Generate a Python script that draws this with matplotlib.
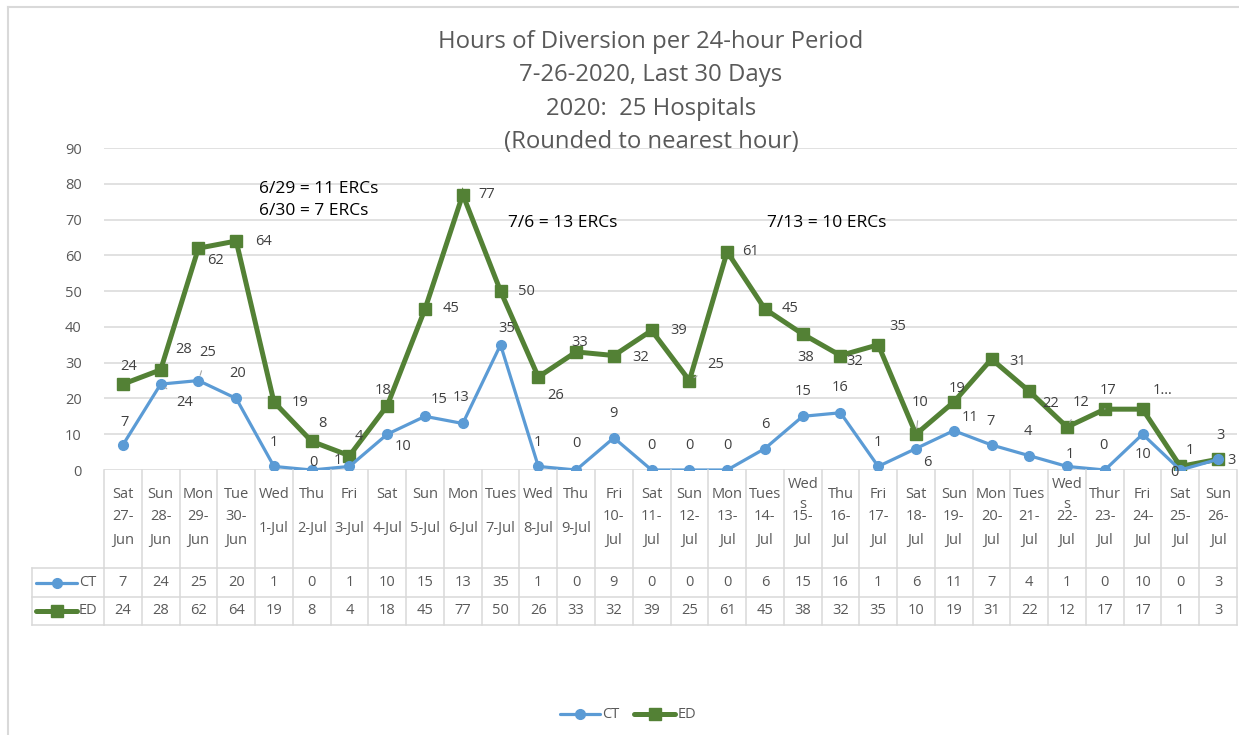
import matplotlib
matplotlib.use("Agg")
import matplotlib.pyplot as plt
from matplotlib import transforms
from matplotlib.lines import Line2D

# ---------------- data ----------------
days = ["Sat", "Sun", "Mon", "Tue", "Wed", "Thu", "Fri", "Sat", "Sun", "Mon",
        "Tues", "Wed", "Thu", "Fri", "Sat", "Sun", "Mon", "Tues", "Weds", "Thu",
        "Fri", "Sat", "Sun", "Mon", "Tues", "Weds", "Thur", "Fri", "Sat", "Sun"]
dates = ["27-Jun", "28-Jun", "29-Jun", "30-Jun", "1-Jul", "2-Jul", "3-Jul", "4-Jul",
         "5-Jul", "6-Jul", "7-Jul", "8-Jul", "9-Jul", "10-Jul", "11-Jul", "12-Jul",
         "13-Jul", "14-Jul", "15-Jul", "16-Jul", "17-Jul", "18-Jul", "19-Jul",
         "20-Jul", "21-Jul", "22-Jul", "23-Jul", "24-Jul", "25-Jul", "26-Jul"]
ct = [7, 24, 25, 20, 1, 0, 1, 10, 15, 13, 35, 1, 0, 9, 0, 0, 0, 6, 15, 16,
      1, 6, 11, 7, 4, 1, 0, 10, 0, 3]
ed = [24, 28, 62, 64, 19, 8, 4, 18, 45, 77, 50, 26, 33, 32, 39, 25, 61, 45, 38, 32,
      35, 10, 19, 31, 22, 12, 17, 17, 1, 3]
series_names = ["CT", "ED"]
title_lines = ["Hours of Diversion per 24-hour Period", "7-26-2020, Last 30 Days",
               "2020:  25 Hospitals", "(Rounded to nearest hour)"]
notes = ["6/29 = 11 ERCs\n6/30 = 7 ERCs", "7/6 = 13 ERCs", "7/13 = 10 ERCs"]
yticks = list(range(0, 100, 10))

# ---------------- style ----------------
W, H = 1239, 735
FONT = "Open Sans"
plt.rcParams["font.family"] = [FONT, "DejaVu Sans"]
GRAY_TXT = "#595959"
LBL_TXT = "#404040"
GRID = "#d9d9d9"
CT_C = "#5B9BD5"
ED_C = "#538135"
FS = 10.5

# data-label offsets in pixels (dx, dy up)
ct_off = [(2, 22), (24, -18), (9, 28), (1, 25), (0, 24), (2, 8), (-12, 6), (16, -12),
          (14, 17), (-2, 26), (6, 16), (0, 24), (0, 27), (0, 24), (0, 25), (0, 25),
          (0, 25), (0, 24), (0, 25), (0, 25), (0, 24), (11, -14), (16, 13), (-1, 23),
          (-1, 24), (3, 12), (-1, 25), (0, -20), (-6, -2), (13, -1)]
ed_off = [(6, 18), (23, 20), (17, -12), (27, 0), (26, 0), (11, 18), (9, 19), (-4, 15),
          (26, 0), (24, 0), (26, 0), (17, -19), (4, 9), (27, -2), (27, 0), (26, 16),
          (23, 0), (25, 0), (3, -23), (14, -6), (20, 18), (4, 32), (3, 14), (26, -2),
          (21, -12), (14, 25), (3, 19), (20, 19), (10, 16), (2, 24)]
ct_leader = {1, 2}
ed_leader = {15, 21, 25, 26}
ed_text_override = {27: "1\u2026"}

fig = plt.figure(figsize=(W / 100, H / 100), dpi=100)
ax = fig.add_axes([104 / W, 1 - 470 / H, (1237 - 104) / W, (470 - 148) / H])

x = list(range(len(days)))
ax.plot(x, ed, color=ED_C, lw=3.6, marker="s", ms=8.5, zorder=3, solid_joinstyle="miter")
ax.plot(x, ct, color=CT_C, lw=2.3, marker="o", ms=7, zorder=4)

ax.set_xlim(-0.5, len(days) - 0.5)
ax.set_ylim(0, 90)
ax.set_yticks(yticks)
ax.set_xticks([])
ax.grid(axis="y", color=GRID, lw=1.1)
ax.set_axisbelow(True)
for s in ax.spines.values():
    s.set_visible(False)
ax.tick_params(axis="y", length=0, pad=16, labelsize=FS, labelcolor=GRAY_TXT)

# data labels
def add_labels(vals, offs, leaders, override):
    for i, v in enumerate(vals):
        txt = override.get(i, str(v))
        dx, dy = offs[i]
        kw = {}
        if i in leaders:
            kw["arrowprops"] = dict(arrowstyle="-", color="#a6a6a6", lw=0.8,
                                    shrinkA=6, shrinkB=4)
        ax.annotate(txt, (i, v), xytext=(dx, dy), textcoords="offset pixels",
                    ha="center", va="center", fontsize=FS, color=LBL_TXT,
                    zorder=5, annotation_clip=False, **kw)

add_labels(ct, ct_off, ct_leader, {})
add_labels(ed, ed_off, ed_leader, ed_text_override)

# pixel transform (top-down pixel coords)
T_px = transforms.Affine2D().scale(1 / W, -1 / H).translate(0, 1) + fig.transFigure
T_mix = transforms.blended_transform_factory(ax.transData, T_px)

# title
for k, line in enumerate(title_lines):
    fig.text(651 / W, 1 - (42 + 33.3 * k) / H, line, ha="center", va="center",
             fontsize=17.2, color=GRAY_TXT)

# notes
fig.text(259 / W, 1 - 200 / H, notes[0], ha="left", va="center", fontsize=12.5,
         color="black", linespacing=1.45)
fig.text(563 / W, 1 - 223 / H, notes[1], ha="center", va="center", fontsize=12.5,
         color="black")
fig.text(827 / W, 1 - 223 / H, notes[2], ha="center", va="center", fontsize=12.5,
         color="black")

# ---------------- data table ----------------
n = len(days)
tbl_lines = []
for b in range(n + 1):
    tbl_lines.append(Line2D([b - 0.5, b - 0.5], [470, 625], transform=T_mix))
for yy in (568, 597, 625):
    tbl_lines.append(Line2D([-0.5, n - 0.5], [yy, yy], transform=T_mix))
    tbl_lines.append(Line2D([32, 104], [yy, yy], transform=T_px))
tbl_lines.append(Line2D([32, 32], [568, 625], transform=T_px))
for ln in tbl_lines:
    ln.set_color(GRID)
    ln.set_linewidth(1.1)
    ln.set_clip_on(False)
    fig.add_artist(ln)

for i in range(n):
    d = days[i]
    dlab = "Wed\ns" if d == "Weds" else d
    ax.text(i, 494.5, dlab, transform=T_mix, ha="center", va="center",
            fontsize=FS, color=GRAY_TXT, linespacing=1.45, clip_on=False)
    dt = dates[i]
    num, mon = dt.split("-")
    dtlab = dt if len(num) == 1 else num + "-\n" + mon
    ax.text(i, 528.5, dtlab, transform=T_mix, ha="center", va="center",
            fontsize=FS, color=GRAY_TXT, linespacing=1.75, clip_on=False)
    ax.text(i, 583, str(ct[i]), transform=T_mix, ha="center", va="center",
            fontsize=FS, color=GRAY_TXT, clip_on=False)
    ax.text(i, 611, str(ed[i]), transform=T_mix, ha="center", va="center",
            fontsize=FS, color=GRAY_TXT, clip_on=False)

# row label keys
def key(x0, x1, y, color, lw, marker, ms, label, tx):
    fig.add_artist(Line2D([x0, x1], [y, y], transform=T_px, color=color, lw=lw,
                          solid_capstyle="round"))
    fig.add_artist(Line2D([(x0 + x1) / 2], [y], transform=T_px, color=color,
                          marker=marker, ms=ms, lw=0))
    fig.text(tx / W, 1 - y / H, label, ha="left", va="center", fontsize=FS,
             color=GRAY_TXT)

key(36, 77, 583, CT_C, 2.3, "o", 7, series_names[0], 79)
key(36, 77, 611, ED_C, 3.6, "s", 8, series_names[1], 79)

# bottom legend
key(560, 600, 714, CT_C, 2.3, "o", 7, series_names[0], 602)
key(634, 675, 714, ED_C, 3.6, "s", 8, series_names[1], 678)

# chart border (top and left visible)
fig.add_artist(Line2D([8, W], [7.5, 7.5], transform=T_px, color="#d9d9d9", lw=1.5))
fig.add_artist(Line2D([8, 8], [7.5, H], transform=T_px, color="#d9d9d9", lw=1.5))

fig.savefig("out.png", dpi=100, facecolor="white")
